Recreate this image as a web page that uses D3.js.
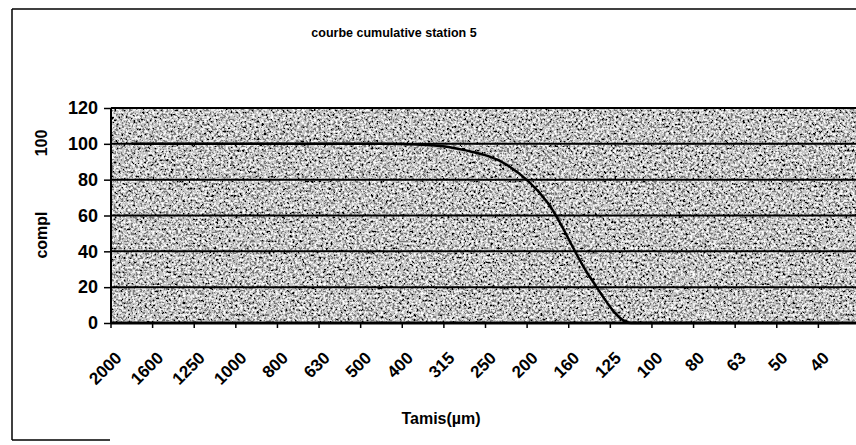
<!DOCTYPE html>
<html>
<head>
<meta charset="utf-8">
<script src="https://cdn.jsdelivr.net/npm/d3@7/dist/d3.min.js"></script>
<style>
  html, body { margin: 0; padding: 0; background: #fff; }
  svg { display: block; }
  text { font-family: Arial, "Liberation Sans", sans-serif; font-weight: bold; fill: #000; }
</style>
</head>
<body>
<svg id="chart" width="856" height="445"></svg>
<script>
const categories = ["2000","1600","1250","1000","800","630","500","400","315","250","200","160","125","100","80","63","50","40"];
const compl = [100,100,100,100,100,100,100,99.5,96.5,88.5,67,26,0,0,0,0,0,0];
const yTicks = [0,20,40,60,80,100,120];
const chartTitle = "courbe cumulative station 5";
const xTitle = "Tamis(µm)";

const svg = d3.select("#chart");
const plot = { left: 111, right: 860, top: 108, bottom: 323 };

// speckled background texture filter
const defs = svg.append("defs");
const f = defs.append("filter").attr("id", "speckle")
  .attr("x", 0).attr("y", 0).attr("width", "100%").attr("height", "100%")
  .attr("filterUnits", "objectBoundingBox");
f.append("feTurbulence").attr("type", "fractalNoise").attr("baseFrequency", "0.42")
  .attr("numOctaves", 2).attr("seed", 7).attr("result", "n");
f.append("feColorMatrix").attr("type", "matrix")
  .attr("values", "1 0 0 0 0  1 0 0 0 0  1 0 0 0 0  0 0 0 0 1").attr("result", "g");
const ct = f.append("feComponentTransfer");
["R","G","B"].forEach(c => ct.append("feFunc" + c).attr("type", "discrete").attr("tableValues", "0 0 0.2 0.55 0.85 1 1"));

// outer frame (scanned page border)
const frame = svg.append("g").attr("stroke", "#000").attr("stroke-width", 1.5).attr("fill", "none");
frame.append("line").attr("x1", 12).attr("y1", 9).attr("x2", 12).attr("y2", 440);
frame.append("line").attr("x1", 12).attr("y1", 9).attr("x2", 856).attr("y2", 9);
frame.append("line").attr("x1", 12).attr("y1", 440).attr("x2", 110).attr("y2", 440);

const x = d3.scaleBand().domain(categories).range([plot.left, plot.right]).padding(0);
const y = d3.scaleLinear().domain([0, 120]).range([plot.bottom, plot.top]);

// plot background
svg.append("rect")
  .attr("x", plot.left).attr("y", plot.top)
  .attr("width", plot.right - plot.left).attr("height", plot.bottom - plot.top)
  .attr("fill", "#999").attr("filter", "url(#speckle)");

// gridlines
svg.append("g").selectAll("line").data(yTicks.filter(v => v > 0)).join("line")
  .attr("x1", plot.left).attr("x2", plot.right)
  .attr("y1", d => y(d)).attr("y2", d => y(d))
  .attr("stroke", "#000").attr("stroke-width", 2);

// plot border left
svg.append("line").attr("x1", plot.left).attr("x2", plot.left)
  .attr("y1", plot.top).attr("y2", plot.bottom).attr("stroke", "#000").attr("stroke-width", 2);

// y axis
const yAxis = svg.append("g").attr("transform", `translate(${plot.left},0)`)
  .call(d3.axisLeft(y).tickValues(yTicks).tickSize(7).tickPadding(6).tickSizeOuter(0));
yAxis.select(".domain").remove();
yAxis.selectAll(".tick line").attr("stroke", "#000").attr("stroke-width", 1.5);
yAxis.selectAll("text").style("font-size", "18px").style("font-family", "Arial, 'Liberation Sans', sans-serif").style("font-weight", "bold");

// x axis line
svg.append("line").attr("x1", plot.left).attr("x2", plot.right)
  .attr("y1", y(0)).attr("y2", y(0)).attr("stroke", "#000").attr("stroke-width", 3);

// x ticks at category boundaries
const bounds = categories.map(c => x(c)).concat([x.range()[1]]);
svg.append("g").selectAll("line").data(bounds).join("line")
  .attr("x1", d => d).attr("x2", d => d)
  .attr("y1", y(0)).attr("y2", y(0) + 5)
  .attr("stroke", "#000").attr("stroke-width", 1.5);

// x labels
svg.append("g").selectAll("text").data(categories).join("text")
  .attr("transform", d => `translate(${x(d) + x.bandwidth() / 2 - 9},359) rotate(-45)`)
  .attr("text-anchor", "end")
  .style("font-size", "17px")
  .text(d => d);

// line
const line = d3.line()
  .x((d, i) => x(categories[i]) + x.bandwidth() / 2)
  .y(d => y(d))
  .curve(d3.curveMonotoneX);
svg.append("path").datum(compl)
  .attr("d", line).attr("fill", "none")
  .attr("stroke", "#000").attr("stroke-width", 2.5);

// titles
svg.append("text").attr("x", 394).attr("y", 37).attr("text-anchor", "middle")
  .style("font-size", "12.5px").text(chartTitle);
svg.append("text").attr("x", 441).attr("y", 424).attr("text-anchor", "middle")
  .style("font-size", "16px").text(xTitle);
svg.append("text").attr("transform", "translate(47,143) rotate(-90)").attr("text-anchor", "middle")
  .style("font-size", "16px").text("100");
svg.append("text").attr("transform", "translate(47,235) rotate(-90)").attr("text-anchor", "middle")
  .style("font-size", "16px").text("compl");
</script>
</body>
</html>
